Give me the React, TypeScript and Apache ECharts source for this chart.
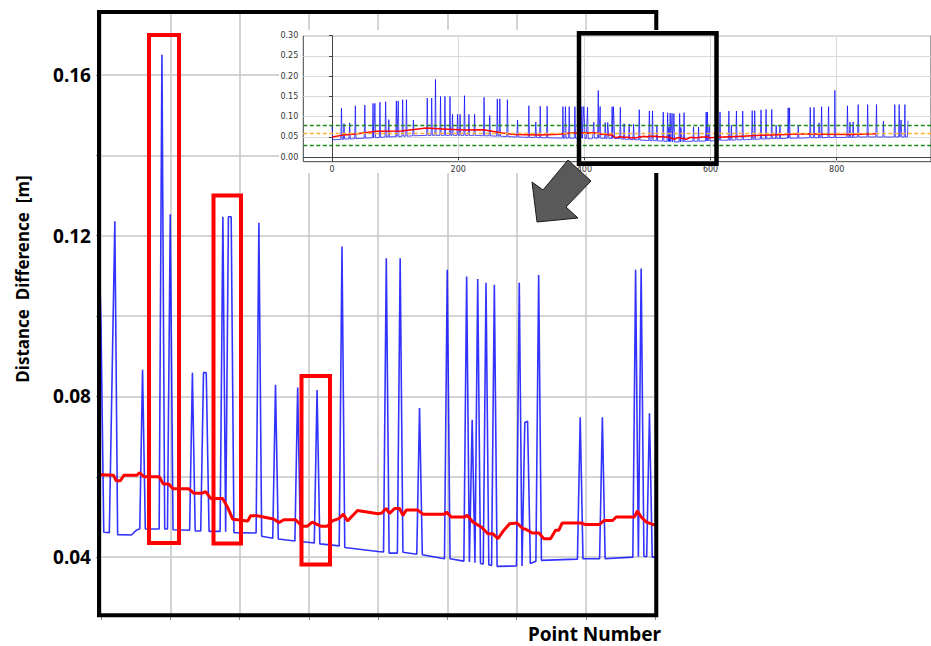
import React, { useEffect, useRef } from 'react';
import * as echarts from 'echarts';

// ---- Blue (distance difference) vertices, overview part before the zoomed window ----
const blueBefore: [number, number][] = [
  [0, 0.079], [1, 0.043], [14, 0.044], [15, 0.121], [16, 0.044], [18, 0.044], [19, 0.083], [20, 0.045],
  [27, 0.045], [28, 0.085], [29, 0.045], [36, 0.046], [37, 0.127], [38, 0.046], [51, 0.047], [52, 0.129],
  [53, 0.047], [64, 0.048], [65, 0.133], [66, 0.048], [67, 0.048], [68, 0.133], [69, 0.048], [75, 0.049],
  [76, 0.136], [77, 0.049], [84, 0.05], [85, 0.137], [86, 0.05], [89, 0.05], [90, 0.093], [91, 0.05],
  [101, 0.051], [102, 0.139], [103, 0.051], [104, 0.051], [105, 0.139], [106, 0.051], [111, 0.052], [112, 0.142],
  [113, 0.052], [117, 0.052], [118, 0.142], [119, 0.052], [128, 0.053], [129, 0.092], [130, 0.053], [150, 0.054],
  [151, 0.146], [152, 0.054], [157, 0.054], [158, 0.146], [159, 0.054], [163, 0.054], [164, 0.192], [165, 0.054],
  [171, 0.054], [172, 0.15], [173, 0.054], [178, 0.054], [179, 0.15], [180, 0.054], [186, 0.054], [187, 0.15],
  [188, 0.054], [190, 0.054], [191, 0.106], [192, 0.054], [198, 0.054], [199, 0.106], [200, 0.054], [202, 0.054],
  [203, 0.106], [204, 0.054], [209, 0.054], [210, 0.152], [211, 0.054], [216, 0.054], [217, 0.106], [218, 0.054],
  [225, 0.054], [226, 0.106], [227, 0.054], [240, 0.053], [241, 0.148], [242, 0.053], [249, 0.053], [250, 0.103],
  [251, 0.053], [261, 0.052], [262, 0.144], [263, 0.052], [265, 0.052], [266, 0.144], [267, 0.052], [277, 0.051],
  [278, 0.142], [279, 0.051], [293, 0.05], [294, 0.092], [295, 0.05], [311, 0.049], [312, 0.127], [313, 0.049],
  [322, 0.049], [323, 0.087], [324, 0.049], [329, 0.048], [330, 0.126], [331, 0.048], [340, 0.048], [341, 0.126],
  [342, 0.048], [365, 0.047], [366, 0.125], [367, 0.047], [369, 0.047], [370, 0.125], [371, 0.047], [375, 0.047],
  [376, 0.125], [377, 0.047], [384, 0.047], [385, 0.125], [386, 0.047], [395, 0.047], [396, 0.125], [397, 0.047],
  [398, 0.047], [399, 0.125],
];

// ---- Blue vertices in the zoomed window (point 400 - 600) ----
const blueDetail: [number, number][] = [
  [400, 0.098], [401, 0.0462], [403, 0.0461], [405, 0.1236], [406, 0.0456], [411, 0.0455], [412, 0.0462],
  [413, 0.0468], [414, 0.047], [415, 0.0866], [416, 0.047], [421, 0.047], [422, 0.165], [423, 0.047],
  [424, 0.047], [425, 0.1253], [426, 0.0468], [432, 0.0467], [433, 0.0859], [434, 0.0465], [436, 0.0465],
  [437, 0.0859], [438, 0.0859], [439, 0.0464], [443, 0.0464], [444, 0.1247], [445, 0.0463], [446, 0.1247],
  [447, 0.1247], [448, 0.0461], [456, 0.046], [457, 0.1232], [458, 0.0452], [462, 0.0447], [463, 0.0829],
  [464, 0.0445], [470, 0.044], [471, 0.0822], [472, 0.0439], [477, 0.0435], [478, 0.0816], [479, 0.0433],
  [486, 0.0428], [487, 0.1173], [488, 0.0424], [500, 0.0414], [502, 0.0413], [503, 0.1144], [504, 0.041],
  [507, 0.041], [508, 0.1144], [509, 0.0412], [514, 0.0407], [515, 0.0771], [516, 0.0406], [524, 0.0396],
  [525, 0.1115], [526, 0.0396], [531, 0.039], [532, 0.1098], [533, 0.0388], [534, 0.0742], [535, 0.0386],
  [536, 0.1092], [537, 0.0384], [538, 0.0383], [539, 0.1083], [540, 0.0381], [541, 0.0379], [542, 0.1078],
  [543, 0.0377], [550, 0.0378], [551, 0.1083], [552, 0.0378], [553, 0.0735], [554, 0.0738], [555, 0.0384],
  [557, 0.039], [558, 0.1102], [559, 0.0392], [572, 0.0395], [573, 0.0748], [574, 0.0396], [580, 0.0396],
  [581, 0.0748], [582, 0.0396], [592, 0.04], [593, 0.1115], [594, 0.0401], [595, 0.1118], [596, 0.0402],
  [597, 0.0401], [598, 0.0758], [599, 0.04], [600, 0.04],
];

// ---- Blue vertices, overview part after the zoomed window ----
const blueAfter: [number, number][] = [
  [614, 0.042], [615, 0.112], [616, 0.042], [628, 0.042], [629, 0.114], [630, 0.042], [632, 0.042], [633, 0.079],
  [634, 0.042], [640, 0.043], [641, 0.114], [642, 0.043], [650, 0.043], [651, 0.114], [652, 0.043], [665, 0.044],
  [666, 0.115], [667, 0.044], [669, 0.044], [670, 0.115], [671, 0.044], [679, 0.045], [680, 0.117], [681, 0.045],
  [687, 0.045], [688, 0.118], [689, 0.045], [696, 0.046], [697, 0.118], [698, 0.046], [703, 0.046], [704, 0.079],
  [705, 0.046], [709, 0.046], [710, 0.079], [711, 0.046], [722, 0.047], [723, 0.122], [724, 0.047], [725, 0.122],
  [726, 0.047], [738, 0.047], [739, 0.079], [740, 0.047], [757, 0.048], [758, 0.123], [759, 0.048], [763, 0.048],
  [764, 0.123], [765, 0.048], [771, 0.048], [772, 0.085], [773, 0.048], [775, 0.048], [776, 0.125], [777, 0.048],
  [786, 0.049], [787, 0.125], [788, 0.049], [796, 0.049], [797, 0.165], [798, 0.049], [816, 0.049], [817, 0.127],
  [818, 0.049], [820, 0.049], [821, 0.087], [822, 0.049], [825, 0.049], [826, 0.087], [827, 0.049], [833, 0.05],
  [834, 0.13], [835, 0.05], [848, 0.05], [849, 0.13], [850, 0.05], [862, 0.05], [863, 0.13], [864, 0.05],
  [873, 0.05], [874, 0.089], [875, 0.05], [891, 0.05], [892, 0.13], [893, 0.05], [898, 0.05], [899, 0.13],
  [900, 0.05], [901, 0.05], [902, 0.092], [903, 0.05], [907, 0.05], [908, 0.13], [909, 0.05], [912, 0.05],
  [913, 0.09],
];

// ---- Red (moving average) vertices ----
const redBefore: [number, number][] = [
  [0, 0.05], [15, 0.054], [40, 0.058], [70, 0.064], [110, 0.065], [150, 0.072], [175, 0.07], [210, 0.067],
  [240, 0.068], [270, 0.06], [290, 0.056], [330, 0.055], [360, 0.057], [380, 0.06],
];
const redDetail: [number, number][] = [
  [400, 0.0605], [404.5, 0.0604], [405.5, 0.059], [407, 0.059], [408.3, 0.0604], [413, 0.0604], [414, 0.061],
  [415.5, 0.06], [421, 0.06], [422.5, 0.0582], [424.4, 0.0582], [426, 0.057], [431.7, 0.057], [433.5, 0.0559],
  [436.5, 0.0559], [437.8, 0.0563], [439.6, 0.0546], [443.9, 0.0546], [445.7, 0.0524], [447.6, 0.0494],
  [453, 0.049], [454, 0.0503], [456.3, 0.0503], [462.3, 0.0495], [464.2, 0.0486], [466, 0.0493], [470.2, 0.0493],
  [472.6, 0.0477], [474.5, 0.0477], [476.3, 0.0487], [479.3, 0.0477], [481.7, 0.0477], [483.5, 0.049],
  [485.9, 0.0496], [487.5, 0.0507], [489, 0.049], [490.8, 0.0503], [492.6, 0.0516], [500, 0.0508],
  [501.4, 0.051], [502.9, 0.0521], [504.2, 0.0509], [506, 0.0521], [507.8, 0.0521], [509, 0.0504],
  [510.2, 0.0517], [514.4, 0.0517], [516.2, 0.0507], [524, 0.0507], [524.8, 0.0512], [526.4, 0.05],
  [531.3, 0.05], [532.2, 0.0504], [534.3, 0.0487], [537.3, 0.0475], [539.7, 0.0458], [541.5, 0.0458],
  [543.3, 0.0446], [545, 0.0463], [547.5, 0.0483], [550.2, 0.0485], [552.4, 0.047], [553.2, 0.047],
  [555.7, 0.046], [558.1, 0.046], [559.9, 0.0446], [562.3, 0.0446], [564.1, 0.0467], [565.3, 0.0467],
  [566.5, 0.0485], [573.2, 0.0485], [575, 0.0481], [579.8, 0.0481], [581.6, 0.0491], [584.7, 0.0491],
  [586, 0.05], [592.6, 0.05], [593.6, 0.0515], [595, 0.05], [596.9, 0.0487], [599.4, 0.0481], [600, 0.048],
];
const redAfter: [number, number][] = [
  [620, 0.05], [650, 0.052], [680, 0.054], [720, 0.056], [750, 0.058], [780, 0.057], [820, 0.056], [862, 0.058],
];

// ---- Threshold lines in the overview ----
const upperLimit = 0.082;
const meanLevel = 0.057;
const lowerLimit = 0.032;

// ---- Ticks ----
const mainYTicks = [0.04, 0.06, 0.08, 0.1, 0.12, 0.14, 0.16];
const mainYLabels = [0.04, 0.08, 0.12, 0.16];
const insetYTicks = [0, 0.05, 0.1, 0.15, 0.2, 0.25, 0.3];
const insetXTicks = [0, 200, 400, 600, 800];

export default function App() {
  const ref = useRef<HTMLDivElement>(null);
  useEffect(() => {
    if (!ref.current) return;
    const chart = echarts.init(ref.current, null, { renderer: 'svg' });
    const blueAll = [...blueBefore, ...blueDetail, ...blueAfter];
    const redAll = [...redBefore, ...redDetail, ...redAfter];
    const option: any = {
      animation: false,
      backgroundColor: '#fff',
      grid: [
        { left: 101, top: 13, width: 554, height: 602 },
        { left: 303.3, top: 35.7, right: 0, height: 126, show: true, borderColor: '#444', borderWidth: 1, backgroundColor: 'transparent', z: 56 },
      ],
      xAxis: [
        {
          gridIndex: 0, type: 'value', min: 400, max: 600, interval: 25,
          axisLine: { show: false },
          axisTick: { show: true, length: 5, lineStyle: { color: '#888', width: 1 } },
          axisLabel: { show: false },
          splitLine: { show: true, lineStyle: { color: '#c6c6c6', width: 1.5 } },
        },
        {
          gridIndex: 1, type: 'value', min: -45.5, max: 949.4, z: 60,
          axisLine: { show: true, lineStyle: { color: '#444', width: 1 } },
          axisTick: { show: true, length: 3, customValues: insetXTicks, lineStyle: { color: '#444' } },
          axisLabel: { show: true, customValues: insetXTicks, fontSize: 8, color: '#333', fontFamily: 'DejaVu Sans', margin: 4 },
          splitLine: { show: true, lineStyle: { color: '#d9d9d9', width: 1 } },
        },
      ],
      yAxis: [
        {
          gridIndex: 0, type: 'value', min: 0.0256, max: 0.1754,
          axisLine: { show: false },
          axisTick: { show: true, length: 5, customValues: mainYTicks, lineStyle: { color: '#888' } },
          axisLabel: {
            show: true, customValues: mainYLabels, margin: 10,
            formatter: (v: number) => v.toFixed(2),
            fontSize: 19, fontWeight: 'bold', color: '#000', fontFamily: 'Noto Sans',
          },
          splitLine: { show: true, lineStyle: { color: '#c6c6c6', width: 1.5 } },
        },
        {
          gridIndex: 1, type: 'value', min: -0.011, max: 0.3, z: 60,
          axisLine: { show: true, lineStyle: { color: '#444', width: 1 } },
          axisTick: { show: true, length: 3, customValues: insetYTicks, lineStyle: { color: '#444' } },
          axisLabel: {
            show: true, customValues: insetYTicks, margin: 5,
            formatter: (v: number) => v.toFixed(2),
            fontSize: 8, color: '#333', fontFamily: 'DejaVu Sans',
          },
          splitLine: { show: true, lineStyle: { color: '#d9d9d9', width: 1 } },
        },
      ],
      series: [
        {
          type: 'line', xAxisIndex: 0, yAxisIndex: 0, data: blueAll, symbol: 'none', showSymbol: false,
          lineStyle: { color: '#0000ff', width: 1.6, opacity: 0.8 }, z: 3, clip: true, silent: true,
        },
        {
          type: 'line', xAxisIndex: 0, yAxisIndex: 0, data: redAll, symbol: 'none', showSymbol: false,
          lineStyle: { color: '#ff0000', width: 3 }, z: 4, clip: true, silent: true,
        },
        {
          type: 'line', xAxisIndex: 1, yAxisIndex: 1, data: blueAll, symbol: 'none', showSymbol: false,
          lineStyle: { color: '#0000ff', width: 1, opacity: 0.7 }, z: 70, clip: true, silent: true,
          markLine: {
            silent: true, symbol: ['none', 'none'], label: { show: false }, z: 72,
            data: [
              { yAxis: upperLimit, lineStyle: { color: '#1a8a1a', type: [4, 2.5], width: 1.3 } },
              { yAxis: meanLevel, lineStyle: { color: '#ffb030', type: [4, 2.5], width: 1.3 } },
              { yAxis: lowerLimit, lineStyle: { color: '#1a8a1a', type: [4, 2.5], width: 1.3 } },
            ],
          },
        },
        {
          type: 'line', xAxisIndex: 1, yAxisIndex: 1, data: redAll, symbol: 'none', showSymbol: false,
          lineStyle: { color: '#ff0000', width: 1.5 }, z: 71, clip: true, silent: true,
        },
      ],
      graphic: [
        { type: 'rect', z: 40, shape: { x: 99, y: 12, width: 557.3, height: 603.2 }, style: { fill: 'none', stroke: '#000', lineWidth: 4 } },
        { type: 'rect', z: 45, shape: { x: 149, y: 35, width: 30, height: 508 }, style: { fill: 'none', stroke: '#ff0000', lineWidth: 4 } },
        { type: 'rect', z: 45, shape: { x: 213.5, y: 195.5, width: 27.5, height: 348 }, style: { fill: 'none', stroke: '#ff0000', lineWidth: 4 } },
        { type: 'rect', z: 45, shape: { x: 301.5, y: 376, width: 28.5, height: 188.5 }, style: { fill: 'none', stroke: '#ff0000', lineWidth: 4 } },
        { type: 'rect', z: 50, shape: { x: 279, y: 30, width: 652, height: 143 }, style: { fill: '#fff', stroke: 'none' } },
        { type: 'rect', z: 100, shape: { x: 579, y: 33.3, width: 137.5, height: 130.4 }, style: { fill: 'none', stroke: '#000', lineWidth: 4.5 } },
        {
          type: 'polygon', z: 100,
          shape: { points: [[537, 222], [532, 182], [543, 190], [568, 160], [591, 181], [566, 207], [578, 218]] },
          style: { fill: '#595959', stroke: '#1a1a1a', lineWidth: 1 },
        },
        {
          type: 'text', z: 100, x: 22, y: 279, rotation: Math.PI / 2,
          style: { text: 'Distance  Difference  [m]', fill: '#000', font: 'bold 17px "Noto Sans"', textAlign: 'center', textVerticalAlign: 'middle' },
        },
        {
          type: 'text', z: 100, x: 661, y: 634,
          style: { text: 'Point Number', fill: '#000', font: 'bold 19px "Noto Sans"', textAlign: 'right', textVerticalAlign: 'middle' },
        },
      ],
    };
    chart.setOption(option);
    return () => chart.dispose();
  }, []);
  return <div ref={ref} style={{ position: 'fixed', left: 0, top: 0, width: 931, height: 646 }} />;
}
